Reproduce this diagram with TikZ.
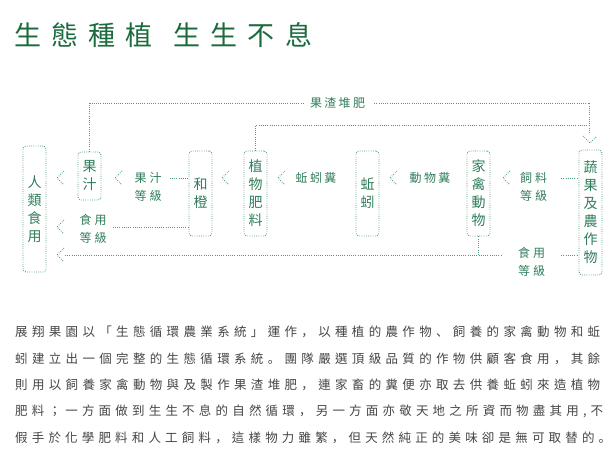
\documentclass[tikz,border=0pt]{standalone}
\usepackage{fontspec}
\newfontfamily\tcfont{Noto Sans CJK TC}
\newfontfamily\scfont{Noto Sans CJK SC}
\definecolor{titlegreen}{HTML}{1B6B3E}
\definecolor{dgreen}{HTML}{2F7D5A}
\definecolor{lgreen}{HTML}{4E9A7A}
\definecolor{bodygray}{HTML}{454545}
\newcommand\pc{\scfont}
\makeatletter
\newcommand\spreadchars[2]{\makebox[#1][s]{\let\spr@sep\relax\@tfor\spr@c:=#2\do{\spr@sep{\spr@c}\def\spr@sep{\hfill}}}}
\makeatother
\newcommand\chevron[1]{\draw[dl] ([shift={(7,-7)}]#1) -- (#1) -- ([shift={(7,7)}]#1);}
\begin{document}
\begin{tikzpicture}[x=1pt,y=-1pt,
  box/.style={draw=lgreen, line width=0.9pt, dash pattern=on 0.8pt off 1.4pt, rounded corners=3pt, minimum width=23pt, inner sep=0pt, text=dgreen, font=\tcfont\fontsize{14}{18}\selectfont, align=center},
  lbl/.style={text=dgreen, font=\tcfont\fontsize{12}{18}\selectfont, align=center, inner sep=0pt},
  dl/.style={draw=lgreen, line width=0.9pt, dash pattern=on 0.8pt off 1.4pt},
  para/.style={anchor=west, inner sep=0pt, font=\tcfont\fontsize{12.5}{14}\selectfont, text=bodygray},
  ttl/.style={anchor=west, inner sep=0pt, font=\tcfont\fontsize{27}{30}\selectfont, text=titlegreen}
]
\useasboundingbox (0,0) rectangle (615,456);

% title
\node[ttl] (t1) at (14,35.5) {\spreadchars{138pt}{生態種植}};
\node[ttl] (t2) at (173,35.5) {\spreadchars{139pt}{生生不息}};

% boxes
\node[box, minimum height=126pt] (rl) at (34.5,209) {人\\類\\食\\用};
\node[box, minimum height=48pt] (gz) at (89.5,176) {果\\汁};
\node[box, minimum height=85pt] (hc) at (200.5,193.5) {和\\橙};
\node[box, minimum height=85pt] (zw) at (255.5,193.5) {植\\物\\肥\\料};
\node[box, minimum height=85pt] (qy) at (367.5,193.5) {蚯\\蚓};
\node[box, minimum height=85pt] (jq) at (478.5,193.5) {家\\禽\\動\\物};
\node[box, minimum height=125pt] (sg) at (590.5,212.5) {蔬\\果\\及\\農\\作\\物};

% labels
\node[lbl] (lzz) at (337.5,103) {\spreadchars{55pt}{果渣堆肥}};
\node[lbl] (lgz) at (148,187) {\spreadchars{27pt}{果汁}\\\spreadchars{27pt}{等級}};
\node[lbl] (ls1) at (93,228.5) {\spreadchars{27pt}{食用}\\\spreadchars{27pt}{等級}};
\node[lbl] (lqf) at (316,178) {\spreadchars{41pt}{蚯蚓糞}};
\node[lbl] (ldw) at (430,178) {\spreadchars{41pt}{動物糞}};
\node[lbl] (lsl) at (533.5,187) {\spreadchars{27pt}{飼料}\\\spreadchars{27pt}{等級}};
\node[lbl] (ls2) at (531.5,262) {\spreadchars{27pt}{食用}\\\spreadchars{27pt}{等級}};

% helper coordinates
\coordinate (ymid) at (0,125);
\coordinate (yr1) at (0,178);
\coordinate (yr2) at (0,227);
\coordinate (yr3) at (0,255);
\coordinate (dtop) at (589.5,134);
\coordinate (dtip) at (590,143);
\coordinate (c1) at (57,178);
\coordinate (c2) at (115,178);
\coordinate (c3) at (222,178);
\coordinate (c4) at (278,178);
\coordinate (c5) at (390,178);
\coordinate (c6) at (503,178);
\coordinate (c7) at (57,227);
\coordinate (c8) at (57,255);

% connectors
\draw[dl] (gz.north) |- ([xshift=-5pt]lzz.west);
\draw[dl] ([xshift=9pt]lzz.east) -| (dtop);
\draw[dl] (zw.north) |- (dtop |- ymid);
\draw[dl] ([shift={(-7,-7)}]dtip) -- (dtip) -- ([shift={(7,-7)}]dtip);

\draw[dl] ([xshift=8pt]lgz.east |- yr1) -- (hc.west |- yr1);
\draw[dl] ([xshift=6pt]ls1.east |- yr2) -- (hc.west |- yr2);
\draw[dl] ([xshift=14pt]lsl.east |- yr1) -- (sg.west |- yr1);
\draw[dl] ([xshift=8pt]c8) -- ([xshift=-16pt]ls2.west |- yr3);
\draw[dl] (jq.south) -- (jq.south |- yr3);
\draw[dl] ([xshift=16pt]ls2.east |- yr3) -- (sg.west |- yr3);

\chevron{c1}
\chevron{c2}
\chevron{c3}
\chevron{c4}
\chevron{c5}
\chevron{c6}
\chevron{c7}
\chevron{c8}

% paragraph
\node[para] (p1) at (15,332) {\spreadchars{585pt}{展翔果園以「生態循環農業系統」運作{\pc，}以種植的農作物{\pc、}飼養的家禽動物和蚯}};
\node[para] (p2) at (15,358.5) {\spreadchars{585pt}{蚓建立出一個完整的生態循環系統{\pc。}團隊嚴選頂級品質的作物供顧客食用{\pc，}其餘}};
\node[para] (p3) at (15,385) {\spreadchars{585pt}{則用以飼養家禽動物與及製作果渣堆肥{\pc，}連家畜的糞便亦取去供養蚯蚓來造植物}};
\node[para] (p4) at (15,411.5) {\spreadchars{588pt}{肥料；一方面做到生生不息的自然循環{\pc，}另一方面亦敬天地之所資而物盡其用,不}};
\node[para] (p5) at (15,438) {\spreadchars{596pt}{假手於化學肥料和人工飼料{\pc，}這樣物力雖繁{\pc，}但天然純正的美味卻是無可取替的{\pc。}}};
\end{tikzpicture}
\end{document}
